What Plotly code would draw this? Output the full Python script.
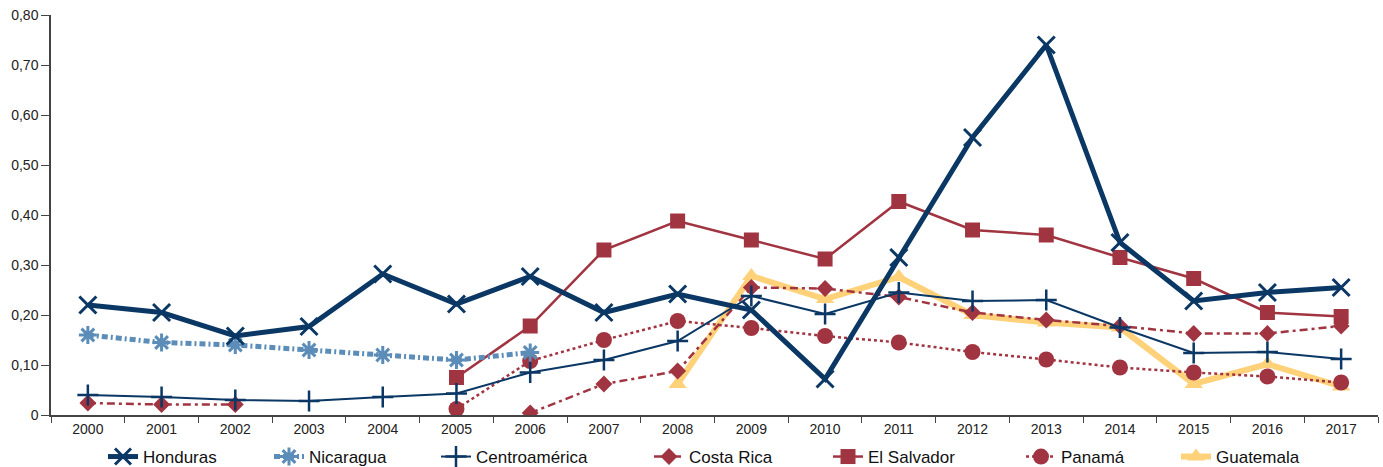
import plotly.graph_objects as go

years = [str(y) for y in range(2000, 2018)]

honduras = [0.220, 0.205, 0.158, 0.177, 0.282, 0.222, 0.277, 0.205, 0.242, 0.210,
            0.072, 0.315, 0.555, 0.740, 0.345, 0.228, 0.245, 0.255]
nicaragua = [0.160, 0.145, 0.140, 0.130, 0.120, 0.110, 0.125] + [None] * 11
centroamerica = [0.040, 0.036, 0.030, 0.028, 0.036, 0.043, 0.085, 0.110, 0.148, 0.238,
                 0.202, 0.245, 0.228, 0.230, 0.175, 0.124, 0.126, 0.112]
costa_rica = [0.024, 0.021, 0.021, None, None, None, 0.004, 0.062, 0.088, 0.255,
              0.253, 0.236, 0.205, 0.190, 0.178, 0.163, 0.163, 0.178]
el_salvador = [None] * 5 + [0.075, 0.178, 0.330, 0.388, 0.350, 0.312, 0.427, 0.370,
                            0.360, 0.315, 0.273, 0.205, 0.197]
panama = [None] * 5 + [0.012, 0.108, 0.150, 0.188, 0.174, 0.158, 0.145, 0.126,
                       0.111, 0.095, 0.085, 0.077, 0.065]
guatemala = [None] * 8 + [0.062, 0.278, 0.232, 0.276, 0.200, 0.185, 0.175, 0.062,
                          0.102, 0.057]

y_tickvals = [0, 0.1, 0.2, 0.3, 0.4, 0.5, 0.6, 0.7, 0.8]
y_ticktext = ["0", "0,10", "0,20", "0,30", "0,40", "0,50", "0,60", "0,70", "0,80"]

NAVY = "#0a3764"
STEEL = "#5b8db8"
RED = "#a13441"
YELLOW = "#ffd27a"

# plot area in pixels (for placing the individual legend entries)
L, R, T, B = 51, 5, 15, 52
W = 1383 - L - R
H = 467 - T - B
legend_px = {"Honduras": 109, "Nicaragua": 275, "Centroamérica": 442, "Costa Rica": 655,
             "El Salvador": 834, "Panamá": 1027, "Guatemala": 1182}
legend_ids = {"Honduras": "legend", "Nicaragua": "legend2", "Centroamérica": "legend3",
              "Costa Rica": "legend4", "El Salvador": "legend5", "Panamá": "legend6",
              "Guatemala": "legend7"}

fig = go.Figure()

# drawn back to front
fig.add_trace(go.Scatter(x=years, y=guatemala, name="Guatemala", mode="lines+markers",
                         line=dict(color=YELLOW, width=6),
                         marker=dict(symbol="triangle-up", size=16, color=YELLOW),
                         legend=legend_ids["Guatemala"]))
fig.add_trace(go.Scatter(x=years, y=panama, name="Panamá", mode="lines+markers",
                         line=dict(color=RED, width=2.5, dash="dot"),
                         marker=dict(symbol="circle", size=16, color=RED),
                         legend=legend_ids["Panamá"]))
fig.add_trace(go.Scatter(x=years, y=el_salvador, name="El Salvador", mode="lines+markers",
                         line=dict(color=RED, width=2.5),
                         marker=dict(symbol="square", size=15, color=RED),
                         legend=legend_ids["El Salvador"]))
fig.add_trace(go.Scatter(x=years, y=costa_rica, name="Costa Rica", mode="lines+markers",
                         line=dict(color=RED, width=2.5, dash="8px,4px,3px,4px"),
                         marker=dict(symbol="diamond", size=13, color=RED),
                         legend=legend_ids["Costa Rica"]))
fig.add_trace(go.Scatter(x=years, y=centroamerica, name="Centroamérica", mode="lines+markers",
                         line=dict(color=NAVY, width=2),
                         marker=dict(symbol="cross-thin-open", size=15,
                                     line=dict(color=NAVY, width=2.5)),
                         legend=legend_ids["Centroamérica"]))
fig.add_trace(go.Scatter(x=years, y=nicaragua, name="Nicaragua", mode="lines+markers",
                         line=dict(color=STEEL, width=5, dash="6px,3px,2px,3px"),
                         marker=dict(symbol="asterisk-open", size=15,
                                     line=dict(color=STEEL, width=3)),
                         legend=legend_ids["Nicaragua"]))
fig.add_trace(go.Scatter(x=years, y=honduras, name="Honduras", mode="lines+markers",
                         line=dict(color=NAVY, width=5),
                         marker=dict(symbol="x-thin-open", size=17,
                                     line=dict(color=NAVY, width=3)),
                         legend=legend_ids["Honduras"]))

layout_legends = {}
for name, px in legend_px.items():
    layout_legends[legend_ids[name]] = dict(
        x=(px - 6 - L) / W, xanchor="left", y=-(457 - 415) / H, yanchor="middle",
        font=dict(size=17, color="#111111"), bgcolor="rgba(0,0,0,0)",
        itemwidth=30, orientation="h")

fig.update_layout(
    width=1383, height=467,
    margin=dict(l=L, r=R, t=T, b=B, autoexpand=False),
    plot_bgcolor="white", paper_bgcolor="white",
    font=dict(family="Liberation Sans, Arial, sans-serif", size=14, color="#222222"),
    showlegend=True,
    **layout_legends,
)
fig.update_xaxes(type="category", tickson="boundaries", ticks="outside", ticklen=6,
                 tickcolor="#444444", showline=True, linecolor="#444444", linewidth=1.5,
                 showgrid=False, range=[-0.5, 17.5], tickfont=dict(size=14))
fig.update_yaxes(range=[0, 0.8], tickvals=y_tickvals, ticktext=y_ticktext,
                 ticks="outside", ticklen=8, tickcolor="#444444", showline=True,
                 linecolor="#444444", linewidth=1.5, showgrid=False, zeroline=False,
                 tickfont=dict(size=14))

fig.write_html("out.html", config={"displayModeBar": False},
               post_script="document.body.style.margin='0px';document.body.style.overflow='hidden';")
